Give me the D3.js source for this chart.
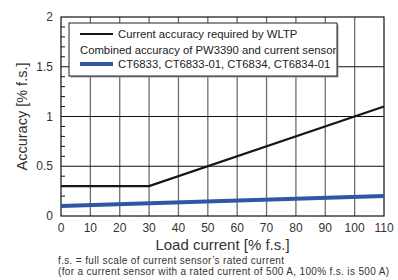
<!DOCTYPE html>
<html>
<head>
<meta charset="utf-8">
<script src="https://cdn.jsdelivr.net/npm/d3@7"></script>
<style>
  body { margin: 0; background: #fff; }
  text { font-family: "Liberation Sans", Arial, sans-serif; }
</style>
</head>
<body>
<div id="chart"></div>
<script>
// data
const wltpX = [0, 30, 110];
const wltpY = [0.3, 0.3, 1.1];
const sensorX = [0, 110];
const sensorY = [0.1, 0.2];
const xTicks = [0, 10, 20, 30, 40, 50, 60, 70, 80, 90, 100, 110];
const yTicks = [0, 0.5, 1, 1.5, 2];
const legendLabels = ['Current accuracy required by WLTP', 'Combined accuracy of PW3390 and current sensor', 'CT6833, CT6833-01, CT6834, CT6834-01'];

const width = 398, height = 280;
const margin = {left: 61, right: 14, top: 17, bottom: 64};

const svg = d3.select('#chart')
	.append('svg')
	.attr('width', width)
	.attr('height', height);

const x = d3.scaleLinear().domain([0, 110]).range([margin.left, width - margin.right]);
const y = d3.scaleLinear().domain([0, 2]).range([height - margin.bottom, margin.top]);

// vertical grid
svg.append('g')
	.selectAll('line')
	.data(xTicks.slice(1, -1))
	.enter()
	.append('line')
	.attr('x1', d => x(d)).attr('x2', d => x(d))
	.attr('y1', y(0)).attr('y2', y(2))
	.attr('stroke', '#6e6e6e')
	.attr('stroke-width', 1.3);

// horizontal grid
svg.append('g')
	.selectAll('line')
	.data(yTicks.slice(1, -1))
	.enter()
	.append('line')
	.attr('x1', x(0)).attr('x2', x(110))
	.attr('y1', d => y(d)).attr('y2', d => y(d))
	.attr('stroke', '#111')
	.attr('stroke-width', 1);

// minor ticks inside left axis
svg.append('g')
	.selectAll('line')
	.data(d3.range(0.1, 2, 0.1).filter(d => Math.abs(d * 2 - Math.round(d * 2)) > 0.01))
	.enter()
	.append('line')
	.attr('x1', x(0)).attr('x2', x(0) + 4)
	.attr('y1', d => y(d)).attr('y2', d => y(d))
	.attr('stroke', '#111');

// plot frame
svg.append('rect')
	.attr('x', x(0)).attr('y', y(2))
	.attr('width', x(110) - x(0))
	.attr('height', y(0) - y(2))
	.attr('fill', 'none')
	.attr('stroke', '#111')
	.attr('stroke-width', 1.2);

// tick labels
svg.append('g')
	.selectAll('text')
	.data(xTicks)
	.enter()
	.append('text')
	.attr('x', d => x(d))
	.attr('y', y(0) + 16)
	.attr('text-anchor', 'middle')
	.attr('font-size', 12)
	.attr('fill', '#333')
	.text(d => d);

svg.append('g')
	.selectAll('text')
	.data(yTicks)
	.enter()
	.append('text')
	.attr('x', x(0) - 8)
	.attr('y', d => y(d) + 4)
	.attr('text-anchor', 'end')
	.attr('font-size', 12)
	.attr('fill', '#333')
	.text(d => d);

// lines
const line = d3.line().x(d => x(d[0])).y(d => y(d[1]));

svg.append('path')
	.datum(sensorX.map((d, i) => [d, sensorY[i]]))
	.attr('d', line)
	.attr('fill', 'none')
	.attr('stroke', '#2f57a5')
	.attr('stroke-width', 4);

svg.append('path')
	.datum(wltpX.map((d, i) => [d, wltpY[i]]))
	.attr('d', line)
	.attr('fill', 'none')
	.attr('stroke', '#1a1414')
	.attr('stroke-width', 2.2);

// legend
const lg = svg.append('g').attr('transform', 'translate(69,23)');
lg.append('rect')
	.attr('x', 1.5).attr('y', 1.5)
	.attr('width', 268).attr('height', 53)
	.attr('fill', '#999');
lg.append('rect')
	.attr('width', 268).attr('height', 53)
	.attr('fill', '#fff')
	.attr('stroke', '#222')
	.attr('stroke-width', 1);
lg.append('line')
	.attr('x1', 11).attr('x2', 44).attr('y1', 11).attr('y2', 11)
	.attr('stroke', '#1a1414').attr('stroke-width', 2.2);
lg.append('line')
	.attr('x1', 11).attr('x2', 44).attr('y1', 41).attr('y2', 41)
	.attr('stroke', '#2f57a5').attr('stroke-width', 4);
lg.append('text').attr('x', 49).attr('y', 15).attr('font-size', 11.3).attr('fill', '#222').text(legendLabels[0]);
lg.append('text').attr('x', 11).attr('y', 31).attr('font-size', 11.3).attr('fill', '#222').text(legendLabels[1]);
lg.append('text').attr('x', 49).attr('y', 45).attr('font-size', 11.3).attr('fill', '#222').text(legendLabels[2]);

// axis titles
svg.append('text')
	.attr('transform', `translate(27,${(y(0) + y(2)) / 2}) rotate(-90)`)
	.attr('text-anchor', 'middle')
	.attr('font-size', 14.5)
	.attr('fill', '#333')
	.text('Accuracy [% f.s.]');

svg.append('text')
	.attr('x', (x(0) + x(110)) / 2)
	.attr('y', y(0) + 34)
	.attr('text-anchor', 'middle')
	.attr('font-size', 15)
	.attr('fill', '#333')
	.text('Load current [% f.s.]');

svg.append('text')
	.attr('x', 58).attr('y', 264)
	.attr('font-size', 10)
	.attr('textLength', 226)
	.attr('fill', '#333')
	.text('f.s. = full scale of current sensor\u2019s rated current');
svg.append('text')
	.attr('x', 58).attr('y', 275)
	.attr('font-size', 10)
	.attr('textLength', 331)
	.attr('fill', '#333')
	.text('(for a current sensor with a rated current of 500 A, 100% f.s. is 500 A)');
</script>
</body>
</html>
